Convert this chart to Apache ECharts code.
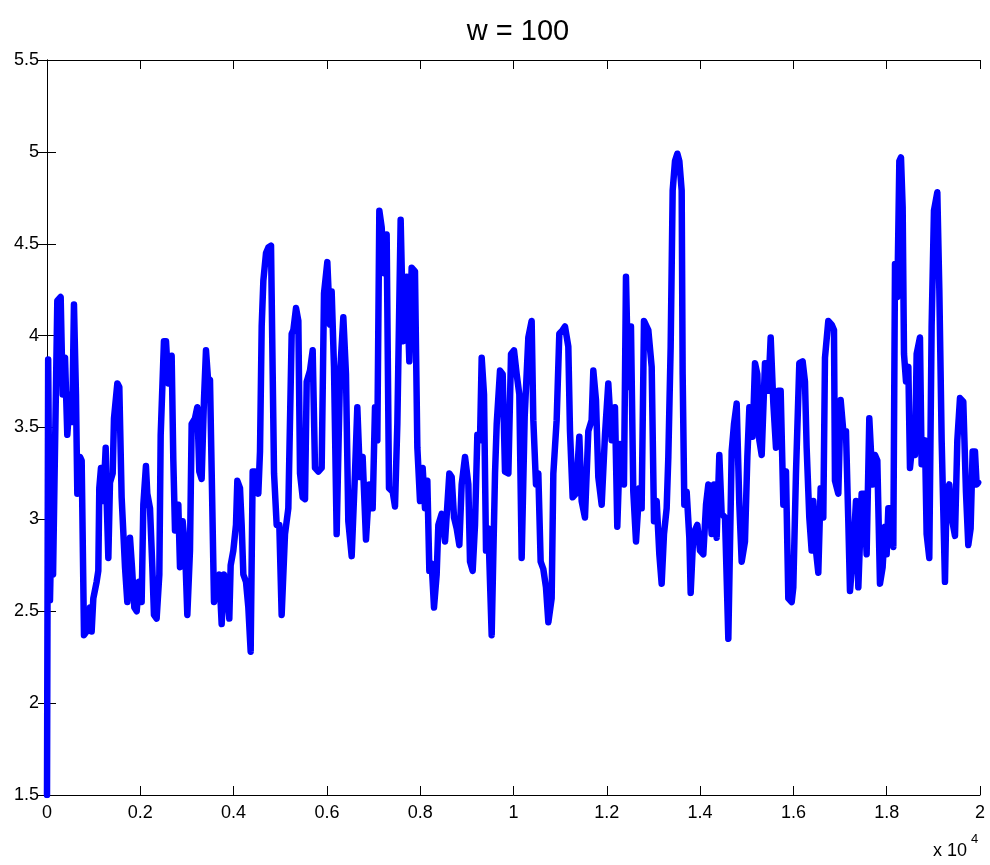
<!DOCTYPE html>
<html>
<head>
<meta charset="utf-8">
<script src="https://cdn.jsdelivr.net/npm/echarts@6/dist/echarts.min.js"></script>
<style>html,body{margin:0;padding:0;background:#fff}#c{width:990px;height:865px}</style>
</head>
<body>
<div id="c"></div>
<script>
const titleText = 'w = 100';
const xTickValues = [0, 2000, 4000, 6000, 8000, 10000, 12000, 14000, 16000, 18000, 20000];
const yTickValues = [1.5, 2, 2.5, 3, 3.5, 4, 4.5, 5, 5.5];
const xs = [
0,25,64,100,130,221,293,336,386,435,493,540,578,621,650,707,743,793,850,921,957,993,1064,1100,1121,1157,1207,1258,1279,1315,1350,1408,1436,1508,1550,1600,1672,1722,1779,1822,1872,1923,1972,2029,2065,2121,2150,2208,2258,2293,2350,2408,2437,2507,
2551,2601,2672,2708,2744,2815,2851,2908,2958,3008,3065,3101,3172,3222,3265,3315,3365,3408,3458,3494,3530,3580,3637,3694,3744,3794,3851,3908,3937,3994,4051,4080,4137,4173,4209,4266,4316,4366,4409,4459,4530,4566,4602,4638,4695,4745,4802,4838,4867,4923,4980,5030,
5102,5173,5245,5281,5338,5388,5424,5481,5531,5567,5638,5695,5745,5817,5888,5938,6009,6066,6102,6152,6209,6281,6352,6409,6459,6531,6602,6652,6709,6766,6838,6909,6981,7031,7081,7124,7174,7224,7281,7331,7410,7460,7510,7581,
7638,7710,7767,7817,7888,7939,7996,8053,8103,8153,8196,8246,8296,8353,8389,8460,8532,8625,8675,8725,8782,8839,8889,8961,9032,9068,9125,9175,9225,9282,9318,9368,9411,9461,9532,9604,9640,9711,9768,9818,9890,9947,10011,10068,10125,10175,
10240,10318,10389,10425,10482,10532,10582,10639,10696,10747,10818,10854,10925,10982,11054,11104,11175,11211,11268,11339,11411,11461,11532,11604,11675,11711,11768,11818,11890,11961,12032,12104,12175,12225,12282,12368,12411,12461,12518,12568,12626,12697,12747,12797,
12819,12890,12962,13012,13069,13126,13176,13226,13283,13319,13369,13412,13462,13512,13555,13605,13626,13662,13712,13769,13798,13855,13941,13998,14069,14127,14177,14248,14298,14355,14412,14462,14534,14605,14677,14727,14784,14841,14891,14962,15013,15056,15127,15177,15227,15270,15320,
15391,15463,15513,15570,15627,15677,15727,15784,15841,15891,15963,15998,16055,16127,16198,16248,16284,16341,16391,16427,16484,16534,16584,16641,16677,16748,16820,16870,16891,16963,17013,17070,17127,17177,17213,17284,17342,17392,17427,17463,17513,17570,17627,17699,17749,17799,17856,
17913,17963,17999,18035,18106,18142,18178,18228,18271,18306,18342,18371,18414,18464,18499,18557,18606,18642,18713,18749,18821,18856,18913,18963,19013,19085,19128,19178,19249,19285,19342,19392,19464,19514,19571,19642,19699,19749,19799,19842,19892,19928,19960
];
const ys = [
1.5,3.87,2.56,3.03,2.70,4.19,4.21,3.68,3.88,3.46,3.68,3.53,4.17,3.68,3.14,3.34,3.32,2.37,2.39,2.52,2.39,2.57,2.66,2.72,3.17,3.28,3.10,3.39,3.10,2.79,3.20,3.25,3.55,3.74,3.72,3.12,2.74,2.55,2.90,2.74,2.52,2.50,2.66,2.55,3.08,3.29,3.14,3.06,2.74,2.48,2.46,2.70,3.46,3.97,
3.97,3.74,3.89,3.32,2.94,3.08,2.74,2.99,2.85,2.48,2.83,3.52,3.55,3.61,3.26,3.22,3.65,3.92,3.74,3.76,3.26,2.55,2.65,2.70,2.43,2.70,2.63,2.46,2.75,2.83,2.97,3.21,3.17,2.97,2.70,2.66,2.52,2.28,3.26,3.26,3.14,3.37,4.05,4.30,4.45,4.48,4.49,3.79,3.25,2.97,2.97,2.48,
2.92,3.06,4.01,4.03,4.15,4.08,3.25,3.12,3.11,3.75,3.81,3.92,3.28,3.26,3.28,4.23,4.40,4.06,4.24,3.83,2.92,3.79,4.10,3.79,2.99,2.80,3.25,3.61,3.23,3.34,2.89,3.19,3.06,3.61,3.43,4.68,4.59,4.34,4.55,3.17,3.15,3.07,3.52,4.63,
3.97,4.32,3.86,4.37,4.35,3.39,3.10,3.28,3.06,3.21,2.72,2.76,2.52,2.70,2.97,3.03,2.88,3.25,3.23,3.01,2.95,2.86,3.19,3.34,3.19,2.77,2.72,2.97,3.46,3.43,3.88,3.68,2.83,2.95,2.37,3.25,3.52,3.81,3.79,3.26,3.25,3.90,3.92,3.79,3.68,2.79,
3.56,3.99,4.08,3.54,3.19,3.25,2.77,2.73,2.63,2.44,2.57,3.25,3.54,4.01,4.03,4.05,3.94,3.48,3.12,3.14,3.45,3.10,3.01,3.48,3.54,3.81,3.65,3.23,3.08,3.46,3.74,3.43,3.61,2.96,3.41,3.19,4.32,3.72,4.05,3.15,2.88,3.17,3.06,4.08,
4.08,4.03,3.83,2.99,3.10,2.81,2.65,2.92,3.06,3.34,3.94,4.79,4.95,4.99,4.95,4.79,3.79,3.08,3.15,2.90,2.60,2.92,2.97,2.83,2.81,3.08,3.19,2.92,3.19,2.90,3.35,3.03,3.01,2.35,3.37,3.52,3.63,3.08,2.77,2.88,3.34,3.61,3.45,3.85,3.79,3.43,3.35,
3.85,3.70,3.99,3.63,3.39,3.70,3.70,3.08,3.26,2.57,2.55,2.63,3.25,3.85,3.86,3.75,3.39,3.01,2.83,3.10,2.83,2.71,3.17,3.01,3.88,4.08,4.06,4.03,3.21,3.14,3.65,3.48,3.48,2.99,2.61,2.83,3.10,2.63,2.63,3.14,3.14,2.81,3.55,3.19,3.35,3.32,2.65,
2.74,2.96,2.81,3.06,3.06,2.85,4.39,4.21,4.95,4.97,4.70,3.90,3.75,3.83,3.28,3.43,3.35,3.90,3.99,3.30,3.43,2.92,2.79,4.05,4.68,4.78,4.25,3.43,2.66,3.15,3.19,3.01,2.91,3.43,3.66,3.64,3.15,2.86,2.95,3.37,3.37,3.19,3.20
];
const seriesData = xs.map((x, i) => [x, ys[i]]);

const FONT = '"Liberation Sans", Arial, Helvetica, sans-serif';
const chart = echarts.init(document.getElementById('c'), null, {renderer: 'canvas'});
const axisCommon = {
  axisLine: {show: true, lineStyle: {color: '#000', width: 1}},
  axisTick: {show: true, inside: true, length: 9, lineStyle: {color: '#000', width: 1}},
  splitLine: {show: false}
};
chart.setOption({
  animation: false,
  backgroundColor: '#fff',
  title: {
    text: titleText, left: 513, top: 12, textAlign: 'center',
    textStyle: {fontFamily: FONT, fontSize: 29, fontWeight: 'normal', color: '#000'}
  },
  graphic: [
    {type: 'text', left: 933, top: 842, style: {text: 'x 10', font: '18px ' + FONT, fill: '#000'}},
    {type: 'text', left: 971, top: 833, style: {text: '4', font: '13px ' + FONT, fill: '#000'}}
  ],
  grid: {left: 47, right: 10, top: 60, bottom: 70, containLabel: false},
  xAxis: [
    Object.assign({
      type: 'value', min: xTickValues[0], max: xTickValues[xTickValues.length - 1],
      interval: xTickValues[1] - xTickValues[0], position: 'bottom',
      axisLabel: {color: '#000', fontSize: 18, fontFamily: FONT, margin: 9,
        formatter: v => String(+(v / 10000).toFixed(1))}
    }, axisCommon),
    Object.assign({
      type: 'value', min: xTickValues[0], max: xTickValues[xTickValues.length - 1],
      interval: xTickValues[1] - xTickValues[0], position: 'top',
      axisLabel: {show: false}
    }, axisCommon)
  ],
  yAxis: [
    Object.assign({
      type: 'value', min: yTickValues[0], max: yTickValues[yTickValues.length - 1],
      interval: yTickValues[1] - yTickValues[0], position: 'left',
      axisLabel: {color: '#000', fontSize: 18, fontFamily: FONT, margin: 8}
    }, axisCommon),
    Object.assign({
      type: 'value', min: yTickValues[0], max: yTickValues[yTickValues.length - 1],
      interval: yTickValues[1] - yTickValues[0], position: 'right',
      axisLabel: {show: false}
    }, axisCommon)
  ],
  series: [{
    type: 'line', data: seriesData, xAxisIndex: 0, yAxisIndex: 0,
    showSymbol: false, symbol: 'none', clip: true,
    lineStyle: {color: '#0000ff', width: 6.5, join: 'round', cap: 'round'},
    itemStyle: {color: '#0000ff'}
  }]
});
</script>
</body>
</html>
